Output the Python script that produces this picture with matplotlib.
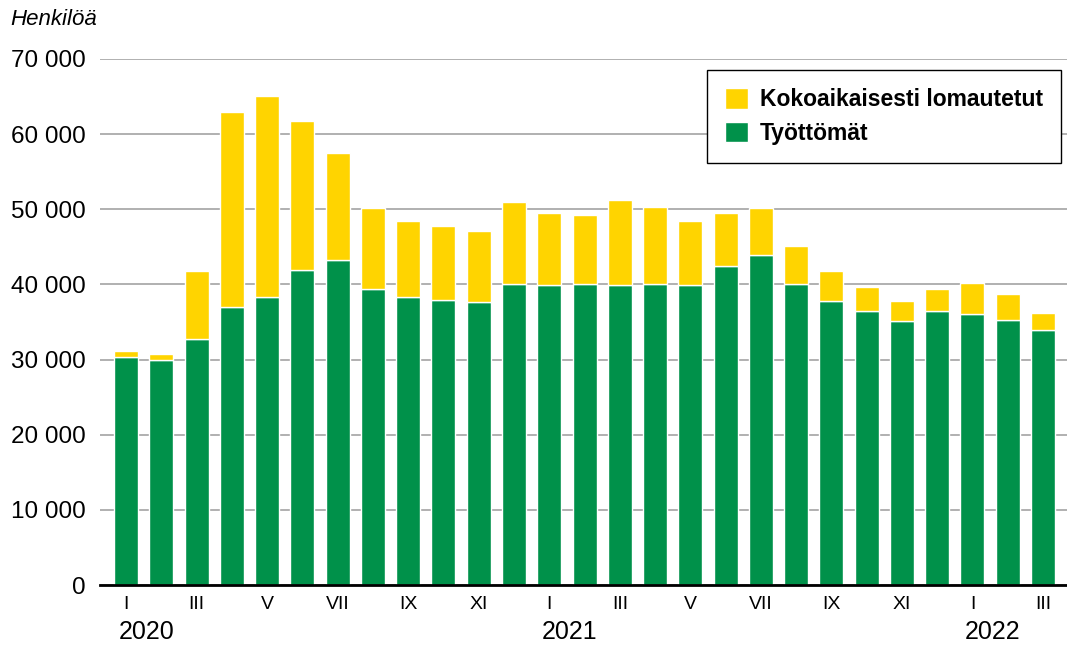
import matplotlib
matplotlib.use("Agg")
import matplotlib.pyplot as plt
import numpy as np
from matplotlib.ticker import FuncFormatter

# Kuukaudet I/2020 - III/2022
months = ["I", "II", "III", "IV", "V", "VI", "VII", "VIII", "IX", "X", "XI", "XII"] * 2 + ["I", "II", "III"]
years = {0: "2020", 12: "2021", 24: "2022"}

unemployed = [30400, 29900, 32700, 37000, 38300, 41900, 43200, 39400, 38300, 37900, 37600, 40000,
              39900, 40050, 39900, 40000, 39900, 42500, 43850, 40000, 37850, 36400, 35100, 36400,
              36100, 35300, 34000]
total = [31200, 30800, 41800, 63000, 65100, 61800, 57500, 50200, 48400, 47750, 47100, 51000,
         49450, 49300, 51250, 50350, 48500, 49550, 50150, 45050, 41850, 39650, 37750, 39400,
         40250, 38750, 36200]
laid_off = [t - u for t, u in zip(total, unemployed)]

GREEN = "#00914A"
YELLOW = "#FFD400"

plt.rcParams['font.family'] = ['Liberation Sans', 'DejaVu Sans']

fig = plt.figure(figsize=(10.67, 6.46), dpi=100)
ax = fig.add_axes([0.0937, 0.0944, 0.9063, 0.8143])

x = np.arange(len(months))
ax.bar(x, unemployed, width=0.68, color=GREEN, edgecolor="white", linewidth=1, label="Työttömät", zorder=3)
ax.bar(x, laid_off, bottom=unemployed, width=0.68, color=YELLOW, edgecolor="white", linewidth=1,
       label="Kokoaikaisesti lomautetut", zorder=3)

ax.set_xlim(-0.74, 26.68)
ax.set_ylim(0, 70000)
ax.set_yticks(range(0, 70001, 10000))
ax.yaxis.set_major_formatter(FuncFormatter(lambda v, p: f"{int(v):,}".replace(",", " ")))
ax.grid(axis="y", color="#aaaaaa", linewidth=1.3, zorder=0)
ax.tick_params(axis="y", length=0, labelsize=17.5, pad=10)

ax.set_xticks(x[::2])
ax.set_xticklabels(months[::2])
ax.tick_params(axis="x", length=0, labelsize=14, pad=8)

for pos, yr in years.items():
    ax.text(pos - 0.22, -0.09, yr, transform=ax.get_xaxis_transform(), ha="left", va="center", fontsize=18)

for s in ["top", "right", "left"]:
    ax.spines[s].set_visible(False)
ax.spines["bottom"].set_linewidth(2)
ax.spines["bottom"].set_zorder(4)

fig.text(0.01, 0.97, "Henkilöä", fontsize=16, style="italic", va="center", ha="left")

handles, labels = ax.get_legend_handles_labels()
leg = ax.legend(handles[::-1], labels[::-1], loc="upper right", bbox_to_anchor=(0.9938, 0.979),
                borderaxespad=0, fancybox=False, edgecolor="black", framealpha=1,
                handlelength=1.0, handleheight=1.0, borderpad=0.8, labelspacing=0.45,
                handletextpad=0.5, prop={"weight": "bold", "size": 16.5})
leg.get_frame().set_linewidth(1)

fig.savefig("out.png", dpi=100)
